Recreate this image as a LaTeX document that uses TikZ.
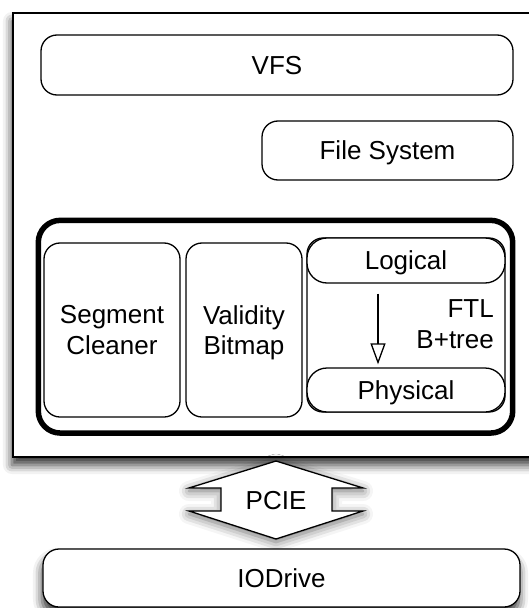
\documentclass[tikz,border=0pt]{standalone}
\usepackage{fontspec}
\setmainfont{Liberation Sans}
\usetikzlibrary{shadows.blur,arrows.meta}

\begin{document}
\begin{tikzpicture}[x=1bp,y=-1bp,
  txt/.style={font=\fontsize{26bp}{30.5bp}\selectfont, align=center, text depth=0bp},
  box/.style={txt, draw=black, line width=1.3bp, rounded corners=16bp, fill=white, inner sep=0bp},
  pill/.style={box, rounded corners=20bp},
  heavybox/.style={draw=black, line width=5.5bp, rounded corners=22bp, inner sep=0bp},
  hostbox/.style={draw=black, line width=1.6bp, fill=white, inner sep=0bp},
  softshadow/.style={blur shadow={shadow xshift=-1bp, shadow yshift=-8bp,
    shadow blur radius=9bp, shadow opacity=80}},
  glow/.style={blur shadow={shadow xshift=0bp, shadow yshift=-3bp,
    shadow blur radius=10bp, shadow opacity=60}}
]
\useasboundingbox (0,0) rectangle (529,608);

% host machine frame (runs off the right edge)
\node[hostbox, softshadow, minimum width=540bp, minimum height=444bp]
  (host) at (283,235) {};

% kernel layers
\node[box, minimum width=472bp, minimum height=60bp] (vfs) at (277,65) {VFS};
\node[box, minimum width=251bp, minimum height=59bp] (fs) at (387.5,150.5) {File System};

% device-side components
\node[heavybox, minimum width=474.4bp, minimum height=212.7bp] (dev) at (275.5,326.7) {};
\node[box, minimum width=136bp, minimum height=174bp] (seg) at (112,330) {Segment\\Cleaner};
\node[box, minimum width=116bp, minimum height=174bp] (valid) at (244,330) {Validity\\Bitmap};
\node[box, minimum width=198bp, minimum height=174bp] (ftl) at (406,325) {};
\node[pill, minimum width=198bp, minimum height=45bp] (logical) at (406,260.5) {Logical};
\node[pill, minimum width=198bp, minimum height=44bp] (physical) at (406,390) {Physical};
\node[txt, align=right, anchor=east, inner sep=0bp] (ftllabel) at (494,324) {FTL\\B+tree};

\draw[line width=1.3bp, -{Triangle[open, length=21bp, width=15bp, line width=1.3bp]},
  shorten <=10bp, shorten >=3bp]
  ([xshift=-28bp]logical.south) -- ([xshift=-28bp]physical.north);

% PCIe link: double-headed block arrow
\coordinate (pcie) at (276,500);
\draw[line width=1.3bp, fill=white, glow, line join=miter]
  ([shift={(0,-39)}]pcie) -- ([shift={(87,-12)}]pcie)
  -- ([shift={(56,-12)}]pcie) -- ([shift={(56,11)}]pcie)
  -- ([shift={(87,11)}]pcie) -- ([shift={(0,39)}]pcie)
  -- ([shift={(-87,11)}]pcie) -- ([shift={(-55,11)}]pcie)
  -- ([shift={(-55,-12)}]pcie) -- ([shift={(-87,-12)}]pcie)
  -- cycle;
\node[txt, inner sep=0bp] (pcielabel) at (pcie) {PCIE};

% storage device
\node[box, softshadow, minimum width=477bp, minimum height=58bp] (iodrive) at (281.5,578) {IODrive};
\end{tikzpicture}
\end{document}
